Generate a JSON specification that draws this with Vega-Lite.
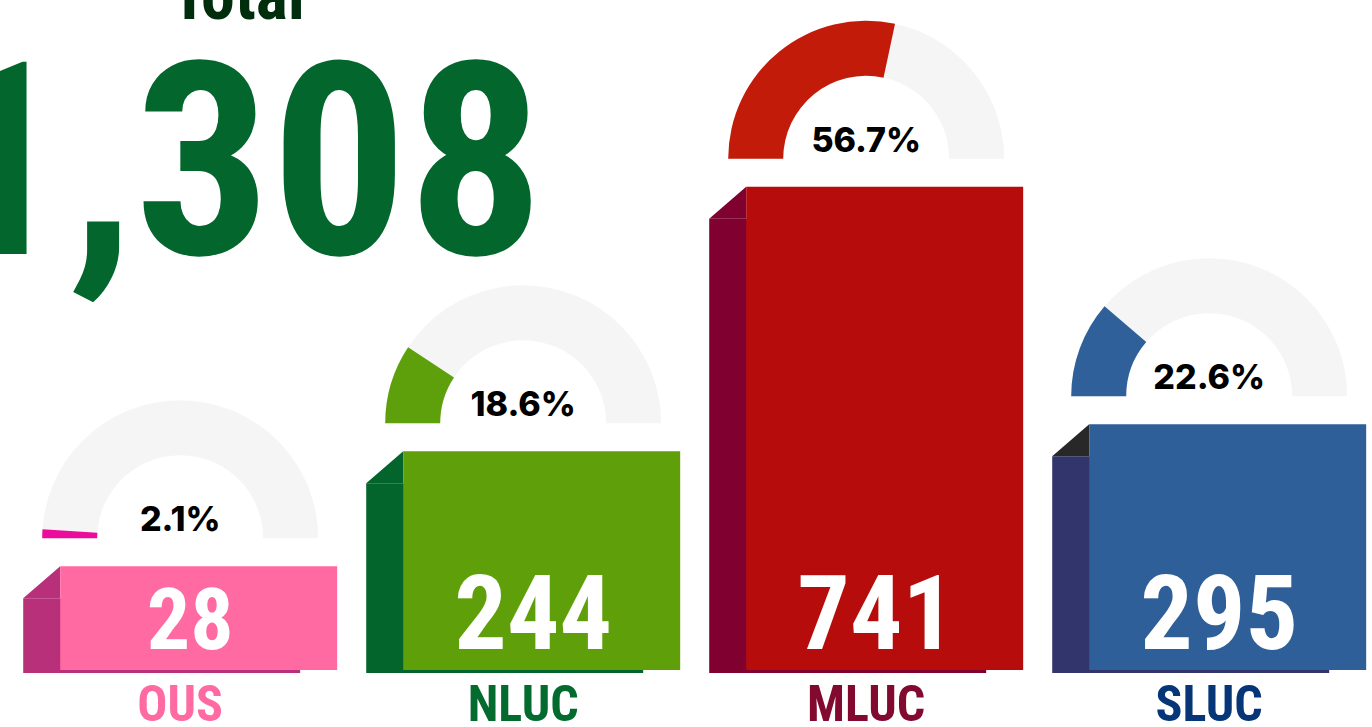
{
  "$schema": "https://vega.github.io/schema/vega-lite/v6.json",
  "width": 1372,
  "height": 727,
  "padding": 0,
  "autosize": {"type": "none"},
  "background": "#ffffff",
  "config": {"view": {"stroke": null}},
  "title": {
    "text": "Total",
    "subtitle": "1,308",
    "orient": "top",
    "anchor": "start",
    "frame": "group",
    "align": "center",
    "dx": 238,
    "offset": -308,
    "font": "Roboto Condensed, Liberation Sans Narrow, DejaVu Sans Condensed, sans-serif",
    "fontSize": 68,
    "fontWeight": "bold",
    "color": "#002d0c",
    "subtitleFont": "Roboto Condensed, Liberation Sans Narrow, DejaVu Sans Condensed, sans-serif",
    "subtitleFontSize": 270,
    "subtitleFontWeight": "bold",
    "subtitleColor": "#03662d",
    "subtitlePadding": 8
  },
  "data": {
    "values": [
      {"cat": "OUS", "value": 28, "pct": 0.021},
      {"cat": "NLUC", "value": 244, "pct": 0.186},
      {"cat": "MLUC", "value": 741, "pct": 0.567},
      {"cat": "SLUC", "value": 295, "pct": 0.226}
    ]
  },
  "encoding": {
    "x": {
      "field": "cat",
      "type": "nominal",
      "sort": ["OUS", "NLUC", "MLUC", "SLUC"],
      "scale": {"paddingInner": 0.0845, "paddingOuter": 0.04225, "align": 0.8},
      "axis": null
    }
  },
  "resolve": {"scale": {"color": "independent"}},
  "layer": [
    {
      "mark": {"type": "arc", "radius": 138, "radius2": 83, "theta": -1.5708, "theta2": 1.5708, "fill": "#f5f5f5", "yOffset": -28},
      "encoding": {
        "y": {"field": "value", "type": "quantitative", "scale": {"domain": [-274, 1092], "nice": false, "zero": false}, "axis": null}
      }
    },
    {
      "mark": {"type": "arc", "radius": 138, "radius2": 83, "yOffset": -28},
      "encoding": {
        "y": {"field": "value", "type": "quantitative"},
        "theta": {"field": "pct", "type": "quantitative", "stack": null, "scale": {"domain": [0, 1], "range": [-1.5708, 1.5708]}},
        "theta2": {"datum": 0},
        "color": {
          "field": "cat", "type": "nominal", "legend": null,
          "scale": {"domain": ["OUS", "NLUC", "MLUC", "SLUC"], "range": ["#ec0c9c", "#5ea00b", "#c21b09", "#2f6099"]}
        }
      }
    },
    {
      "mark": {"type": "text", "yOffset": -35, "baseline": "alphabetic", "align": "center", "font": "Inter, Open Sans, sans-serif", "fontWeight": 800, "fontSize": 34, "color": "#000000"},
      "encoding": {
        "y": {"field": "value", "type": "quantitative"},
        "text": {"field": "pct", "type": "quantitative", "format": ".1%"}
      }
    },
    {
      "mark": {"type": "bar", "width": {"band": 0.882}, "xOffset": -18.5, "yOffset": 32, "y2Offset": 3},
      "encoding": {
        "y": {"field": "value", "type": "quantitative"},
        "y2": {"datum": -167},
        "color": {
          "field": "cat", "type": "nominal", "legend": null,
          "scale": {"domain": ["OUS", "NLUC", "MLUC", "SLUC"], "range": ["#b8307a", "#03652b", "#800030", "#31356b"]}
        }
      }
    },
    {
      "mark": {"type": "point", "shape": "M -1 0.865 L 1 -0.865 L 1 0.865 Z", "size": 1369, "filled": true, "opacity": 1, "strokeWidth": 0, "xOffset": -138.5, "yOffset": 16},
      "encoding": {
        "y": {"field": "value", "type": "quantitative"},
        "color": {
          "field": "cat", "type": "nominal", "legend": null,
          "scale": {"domain": ["OUS", "NLUC", "MLUC", "SLUC"], "range": ["#b8307a", "#03652b", "#800030", "#282828"]}
        }
      }
    },
    {
      "mark": {"type": "bar", "width": {"band": 0.882}, "xOffset": 18.5},
      "encoding": {
        "y": {"field": "value", "type": "quantitative"},
        "y2": {"datum": -167},
        "color": {
          "field": "cat", "type": "nominal", "legend": null,
          "scale": {"domain": ["OUS", "NLUC", "MLUC", "SLUC"], "range": ["#ff6aa2", "#5fa00a", "#b70c0c", "#2e5f98"]}
        }
      }
    },
    {
      "mark": {"type": "text", "yOffset": -21, "xOffset": 10, "baseline": "alphabetic", "align": "center", "font": "Roboto Condensed, Liberation Sans Narrow, DejaVu Sans Condensed, sans-serif", "fontWeight": "bold", "color": "#ffffff"},
      "encoding": {
        "y": {"datum": -167},
        "text": {"field": "value", "type": "quantitative"},
        "size": {"condition": {"test": "datum.value < 100", "value": 86}, "value": 104}
      }
    },
    {
      "mark": {"type": "text", "yOffset": 51, "baseline": "alphabetic", "align": "center", "font": "Roboto Condensed, Liberation Sans Narrow, DejaVu Sans Condensed, sans-serif", "fontWeight": "bold", "fontSize": 50},
      "encoding": {
        "y": {"datum": -167},
        "text": {"field": "cat", "type": "nominal"},
        "color": {
          "field": "cat", "type": "nominal", "legend": null,
          "scale": {"domain": ["OUS", "NLUC", "MLUC", "SLUC"], "range": ["#ff6aa2", "#036b2e", "#820a30", "#063578"]}
        }
      }
    }
  ]
}
